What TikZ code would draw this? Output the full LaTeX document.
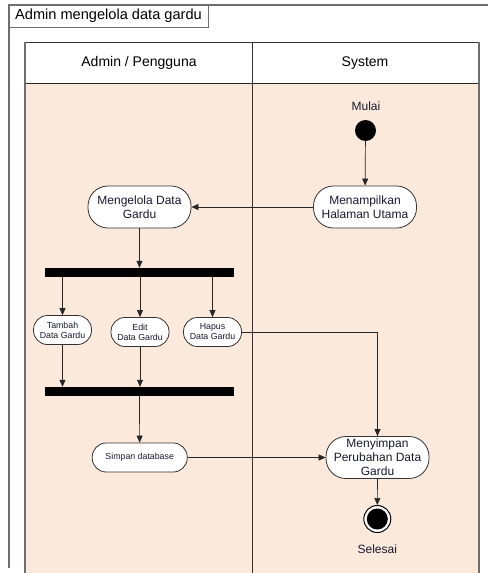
\documentclass[tikz,border=0pt]{standalone}
\usepackage{fontspec}
\setmainfont{Liberation Sans}
\usetikzlibrary{arrows.meta}
\definecolor{lanefill}{RGB}{251,233,220}
\definecolor{framegray}{RGB}{110,110,110}
\definecolor{txt}{RGB}{25,25,45}
\tikzset{
  act/.style={draw=black!80, fill=white, line width=0.8pt, align=center, text=txt, inner sep=0pt},
  bigact/.style={act, minimum width=103pt, minimum height=42pt, rounded corners=20pt, font=\fontsize{12}{13.5}\selectfont},
  smallact/.style={act, minimum width=58pt, minimum height=29pt, rounded corners=14pt, font=\fontsize{8.8}{10}\selectfont},
  bar/.style={fill=black, draw=none, minimum width=189pt, minimum height=9pt, inner sep=0pt},
  flow/.style={draw=black!85, line width=0.7pt, -{Triangle[length=7pt,width=6pt]}},
  lbl/.style={font=\fontsize{12}{14}\selectfont, text=txt},
}
\begin{document}
\begin{tikzpicture}[x=1pt,y=-1pt]
\useasboundingbox (0,0) rectangle (488,573);
% outer frame
\draw[framegray, line width=1.3pt] (9,568) -- (9,5) -- (488,5);
\node[draw=framegray, line width=1pt, fill=white, minimum width=199pt, minimum height=22pt, inner sep=0pt,
      font=\fontsize{14.6}{16}\selectfont, text=black] (title) at (108.5,16) {Admin mengelola data gardu};
% swimlanes
\fill[lanefill] (25,83) rectangle (479,573);
\fill[white] (25,42) rectangle (479,83);
\draw[black!80, line width=1pt] (25,42) -- (479,42);
\draw[black!85, line width=1pt] (25,83) -- (479,83);
\draw[framegray, line width=1.4pt] (25,42) -- (25,573);
\draw[framegray, line width=1.4pt] (479,42) -- (479,573);
\draw[black!80, line width=1pt] (252.5,42) -- (252.5,573);
\node[font=\fontsize{14}{16}\selectfont, text=black] (h1) at (139,63) {Admin / Pengguna};
\node[font=\fontsize{14}{16}\selectfont, text=black] (h2) at (365,63) {System};
% nodes
\node[lbl] (mulai) at (366,106) {Mulai};
\node[circle, fill=black, minimum size=21pt, inner sep=0pt] (start) at (365.5,130.5) {};
\node[bigact] (tampil) at (365,207) {Menampilkan\\Halaman Utama};
\node[bigact] (kelola) at (139.5,207) {Mengelola Data\\Gardu};
\node[bar] (fork) at (139.5,272.5) {};
\node[smallact] (tambah) at (62.5,330) {Tambah\\Data Gardu};
\node[smallact] (edit) at (140,332) {Edit\\Data Gardu};
\node[smallact] (hapus) at (212.5,332) {Hapus\\Data Gardu};
\node[bar] (join) at (139.5,391.5) {};
\node[smallact, minimum width=95pt] (simpan) at (139.7,457.5) {Simpan database};
\node[bigact, font=\fontsize{12}{13.8}\selectfont] (menyimpan) at (377.5,457.5) {Menyimpan\\Perubahan Data\\Gardu};
\node[circle, draw=black, line width=1pt, fill=white, minimum size=27pt, inner sep=0pt] (end) at (377.3,519) {};
\node[circle, fill=black, minimum size=21pt, inner sep=0pt] (endin) at (end) {};
\node[lbl] (selesai) at (377.3,549) {Selesai};
% connectors
\draw[flow] (start) -- (tampil);
\draw[flow] (tampil) -- (kelola);
\draw[flow] (kelola) -- (fork);
\draw[flow] (fork.south -| tambah) -- (tambah);
\draw[flow] (fork.south -| edit) -- (edit);
\draw[flow] (fork.south -| hapus) -- (hapus);
\draw[flow] (tambah) -- (join.north -| tambah);
\draw[flow] (edit) -- (join.north -| edit);
\draw[flow] (hapus.east) -| (menyimpan.north);
\draw[flow] (join) -- (simpan);
\draw[flow] (simpan) -- (menyimpan);
\draw[flow] (menyimpan) -- (end);
\end{tikzpicture}
\end{document}
